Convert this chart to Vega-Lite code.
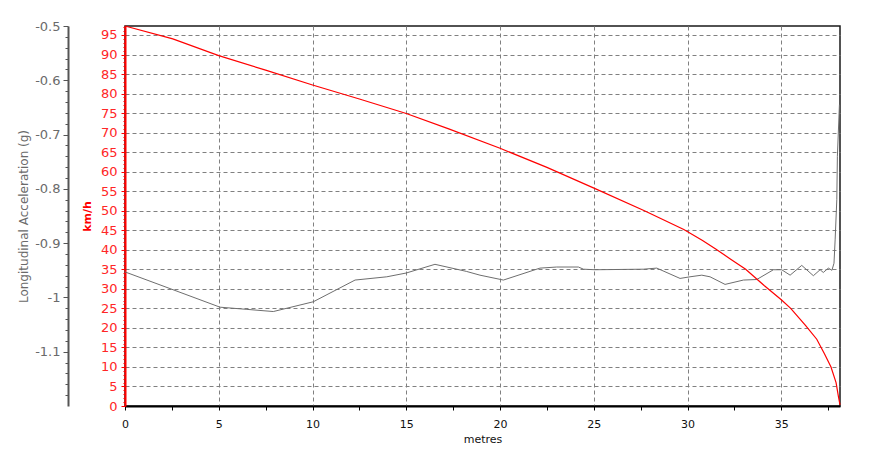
{
  "$schema": "https://vega.github.io/schema/vega-lite/v6.json",
  "width": 715,
  "height": 380,
  "autosize": {"type": "none"},
  "padding": {"left": 125, "top": 26, "right": 39, "bottom": 50},
  "background": "white",
  "config": {
    "view": {"stroke": "#1a1a1a", "strokeWidth": 1.5},
    "font": "DejaVu Sans"
  },
  "datasets": {
    "accel": [
      {"m": 0, "g": -0.953},
      {"m": 2.5, "g": -0.985},
      {"m": 5.07, "g": -1.018},
      {"m": 6.5, "g": -1.022},
      {"m": 7.91, "g": -1.026},
      {"m": 10.04, "g": -1.008},
      {"m": 12.27, "g": -0.968},
      {"m": 13.96, "g": -0.962},
      {"m": 15.0, "g": -0.955},
      {"m": 16.53, "g": -0.939},
      {"m": 18.2, "g": -0.952},
      {"m": 18.93, "g": -0.959},
      {"m": 20.18, "g": -0.968},
      {"m": 22.13, "g": -0.946},
      {"m": 23.02, "g": -0.944},
      {"m": 24.18, "g": -0.944},
      {"m": 24.45, "g": -0.948},
      {"m": 25.07, "g": -0.949},
      {"m": 27.64, "g": -0.948},
      {"m": 28.36, "g": -0.946},
      {"m": 29.6, "g": -0.965},
      {"m": 30.13, "g": -0.962},
      {"m": 30.76, "g": -0.959},
      {"m": 31.2, "g": -0.962},
      {"m": 32.0, "g": -0.976},
      {"m": 32.98, "g": -0.968},
      {"m": 33.69, "g": -0.967},
      {"m": 34.58, "g": -0.949},
      {"m": 35.02, "g": -0.949},
      {"m": 35.47, "g": -0.959},
      {"m": 36.09, "g": -0.941},
      {"m": 36.71, "g": -0.96},
      {"m": 37.07, "g": -0.949},
      {"m": 37.24, "g": -0.954},
      {"m": 37.51, "g": -0.946},
      {"m": 37.7, "g": -0.95},
      {"m": 37.81, "g": -0.937},
      {"m": 37.87, "g": -0.894},
      {"m": 37.96, "g": -0.82},
      {"m": 37.99, "g": -0.74},
      {"m": 38.1, "g": -0.645}
    ],
    "speed": [
      {"m": 0, "kmh": 97.3},
      {"m": 2.55, "kmh": 94.0},
      {"m": 5, "kmh": 89.7},
      {"m": 7.5, "kmh": 86.0},
      {"m": 10, "kmh": 82.2},
      {"m": 12.5, "kmh": 78.6},
      {"m": 15, "kmh": 74.9},
      {"m": 17.3, "kmh": 70.9},
      {"m": 20, "kmh": 66.0},
      {"m": 22.5, "kmh": 61.1},
      {"m": 25.1, "kmh": 55.6},
      {"m": 27.7, "kmh": 50.0},
      {"m": 29.8, "kmh": 45.2},
      {"m": 30.8, "kmh": 42.4},
      {"m": 31.5, "kmh": 40.2},
      {"m": 32.3, "kmh": 37.6},
      {"m": 33.1, "kmh": 35.0},
      {"m": 34.1, "kmh": 30.8},
      {"m": 35.0, "kmh": 27.2},
      {"m": 35.5, "kmh": 25.0},
      {"m": 36.3, "kmh": 20.6},
      {"m": 36.89, "kmh": 17.1},
      {"m": 37.3, "kmh": 13.4},
      {"m": 37.65, "kmh": 10.0},
      {"m": 37.92, "kmh": 6.0},
      {"m": 38.04, "kmh": 2.6},
      {"m": 38.13, "kmh": 0.3}
    ]
  },
  "layer": [
    {
      "data": {"name": "accel"},
      "mark": {"type": "line", "color": "#6e6e6e", "strokeWidth": 1},
      "encoding": {
        "x": {
          "field": "m", "type": "quantitative",
          "scale": {"domain": [0, 38.13], "nice": false, "zero": false},
          "axis": {
            "title": "metres",
            "values": [0,1.25,2.5,3.75,5,6.25,7.5,8.75,10,11.25,12.5,13.75,15,16.25,17.5,18.75,20,21.25,22.5,23.75,25,26.25,27.5,28.75,30,31.25,32.5,33.75,35,36.25,37.5],
            "labelExpr": "datum.value % 5 === 0 ? toString(datum.value) : ''",
            "labelOverlap": false,
            "labelFlush": false,
            "labelFont": "DejaVu Sans",
            "labelFontSize": 11,
            "labelColor": "#111",
            "labelPadding": 8,
            "tickSize": 4,
            "tickColor": "#000",
            "domainColor": "#000",
            "domainWidth": 2,
            "grid": true,
            "gridColor": "#808080",
            "gridDash": [4, 3],
            "gridOpacity": {"condition": {"test": "datum.value % 5 === 0 && datum.value > 0", "value": 1}, "value": 0},
            "titleFont": "DejaVu Sans",
            "titleFontSize": 11,
            "titleFontWeight": "normal",
            "titleColor": "#111",
            "titlePadding": 4
          }
        },
        "y": {
          "field": "g", "type": "quantitative",
          "scale": {"domain": [-1.2, -0.5], "nice": false, "zero": false},
          "axis": {
            "orient": "left",
            "offset": 57,
            "title": "Longitudinal Acceleration (g)",
            "values": [-1.18,-1.16,-1.14,-1.12,-1.1,-1.08,-1.06,-1.04,-1.02,-1,-0.98,-0.96,-0.94,-0.92,-0.9,-0.88,-0.86,-0.84,-0.82,-0.8,-0.78,-0.76,-0.74,-0.72,-0.7,-0.68,-0.66,-0.64,-0.62,-0.6,-0.58,-0.56,-0.54,-0.52,-0.5],
            "labelExpr": "abs(datum.value*10 - round(datum.value*10)) < 0.01 ? toString(round(datum.value*10)/10) : ''",
            "labelOverlap": false,
            "labelFlush": false,
            "labelFont": "DejaVu Sans",
            "labelFontSize": 13,
            "labelColor": "#6a6a6a",
            "labelPadding": 3,
            "tickColor": "#555",
            "tickSize": {"condition": {"test": "abs(datum.value*10 - round(datum.value*10)) < 0.01", "value": 5}, "value": 3},
            "domainColor": "#555",
            "domainWidth": 2,
            "grid": false,
            "titleFont": "DejaVu Sans",
            "titleFontSize": 12,
            "titleFontWeight": "normal",
            "titleColor": "#6a6a6a",
            "titleX": -45,
            "titleY": 190,
            "titleBaseline": "middle"
          }
        }
      }
    },
    {
      "data": {"name": "speed"},
      "mark": {"type": "line", "color": "#ff0000", "strokeWidth": 1.2},
      "encoding": {
        "x": {"field": "m", "type": "quantitative"},
        "y": {
          "field": "kmh", "type": "quantitative",
          "scale": {"domain": [0, 97.3], "nice": false, "zero": false},
          "axis": {
            "orient": "left",
            "offset": 0,
            "title": "km/h",
            "values": [0,1,2,3,4,5,6,7,8,9,10,11,12,13,14,15,16,17,18,19,20,21,22,23,24,25,26,27,28,29,30,31,32,33,34,35,36,37,38,39,40,41,42,43,44,45,46,47,48,49,50,51,52,53,54,55,56,57,58,59,60,61,62,63,64,65,66,67,68,69,70,71,72,73,74,75,76,77,78,79,80,81,82,83,84,85,86,87,88,89,90,91,92,93,94,95,96,97],
            "labelExpr": "datum.value % 5 === 0 ? toString(datum.value) : ''",
            "labelOverlap": false,
            "labelFlush": false,
            "labelFont": "DejaVu Sans",
            "labelFontSize": 13,
            "labelColor": "#ff2626",
            "labelPadding": 4,
            "tickColor": "#ff0000",
            "tickSize": {"condition": {"test": "datum.value % 5 === 0", "value": 4}, "value": 2},
            "domainColor": "#ff0000",
            "domainWidth": 2,
            "grid": true,
            "gridColor": "#808080",
            "gridDash": [4, 3],
            "gridOpacity": {"condition": {"test": "datum.value % 5 === 0 && datum.value > 0", "value": 1}, "value": 0},
            "titleFont": "DejaVu Sans",
            "titleFontSize": 11,
            "titleFontWeight": "bold",
            "titleColor": "#ff0000",
            "titleX": -37.5,
            "titleY": 190,
            "titleBaseline": "middle"
          }
        }
      }
    }
  ],
  "resolve": {"scale": {"y": "independent"}}
}
